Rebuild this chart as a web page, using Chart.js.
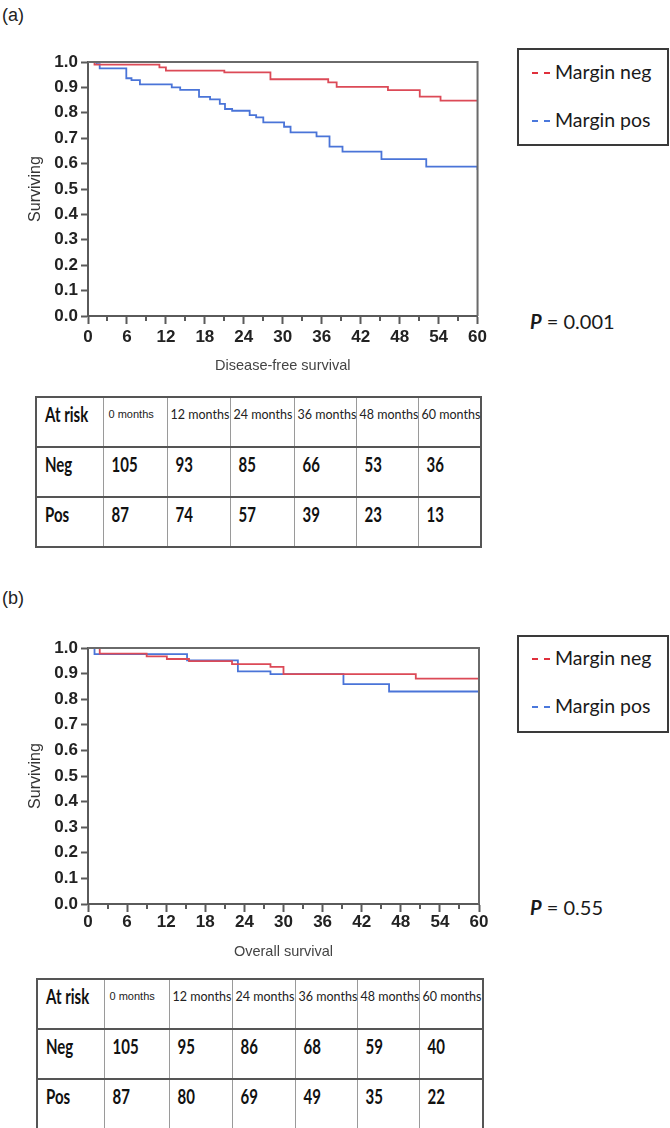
<!DOCTYPE html>
<html>
<head>
<meta charset="utf-8">
<script src="https://cdn.jsdelivr.net/npm/chart.js@4.4.1/dist/chart.umd.min.js"></script>
<style>
  html, body { margin: 0; padding: 0; background: #fff; }
  #page { position: relative; width: 670px; height: 1128px; overflow: hidden; background: #fff; font-family: "Liberation Sans", Arial, sans-serif; }
  .panel { position: absolute; left: 2px; font-size: 18px; color: #222; }
  .cw { position: absolute; left: 0; }
  .legend { position: absolute; left: 517px; width: 152px; height: 98px; border: 2px solid #3a3a3a; box-sizing: border-box; font-family: Lato, "Open Sans", sans-serif; font-size: 19.5px; color: #1a1a1a; }
  .legend .item { position: absolute; left: 13px; height: 22px; line-height: 22px; white-space: nowrap; }
  .legend .swatch { display: inline-block; width: 18px; height: 0; border-top: 2px dashed; vertical-align: middle; margin-right: 5px; position: relative; top: -1px; }
  .pval { position: absolute; left: 530px; font-family: Lato, sans-serif; font-size: 20px; color: #1a1a1a; white-space: nowrap; }
  .pval i { font-weight: bold; }
  table.risk { position: absolute; border-collapse: collapse; table-layout: fixed; }
  table.risk td { height: 50px; box-sizing: border-box; vertical-align: top; padding: 0; border-left: 1px solid #9a9a9a; border-right: 1px solid #9a9a9a; border-top: 2px solid #555; border-bottom: 2px solid #555; overflow: visible; white-space: nowrap; }
  table.risk td:first-child { border-left: 2px solid #555; }
  table.risk td:last-child { border-right: 2px solid #555; }
  table.risk td.h { font-family: Lato, sans-serif; font-size: 12.5px; color: #222; padding: 9px 0 0 3px; }
  table.risk td.h0 { font-family: "Liberation Sans", Arial, sans-serif; font-size: 11px; padding: 10px 0 0 5px; }
  table.risk td .b { display: inline-block; font-family: Lato, sans-serif; font-weight: bold; font-size: 15px; line-height: 16px; color: #111; transform: scaleY(1.4); transform-origin: 50% 50%; }
  table.risk td.n { padding: 8px 0 0 8px; }
</style>
</head>
<body>
<div id="page">
  <div class="panel" style="top:5px;">(a)</div>
  <div class="cw" style="top:40px;"><canvas id="chartA" width="490" height="340"></canvas></div>
  <div class="legend" style="top:48px;">
    <div class="item" style="top:11px;"><span class="swatch" style="border-color:#e0303c;"></span>Margin neg</div>
    <div class="item" style="top:59px;"><span class="swatch" style="border-color:#4a78dc;"></span>Margin pos</div>
  </div>
  <div class="pval" style="top:309px;"><i>P</i> = 0.001</div>
  <table class="risk" id="tableA" style="left:35px; top:396px;"></table>

  <div class="panel" style="top:588px;">(b)</div>
  <div class="cw" style="top:620px;"><canvas id="chartB" width="490" height="350"></canvas></div>
  <div class="legend" style="top:635px;">
    <div class="item" style="top:10px;"><span class="swatch" style="border-color:#e0303c;"></span>Margin neg</div>
    <div class="item" style="top:58px;"><span class="swatch" style="border-color:#4a78dc;"></span>Margin pos</div>
  </div>
  <div class="pval" style="top:895px;"><i>P</i> = 0.55</div>
  <table class="risk" id="tableB" style="left:36px; top:978px;"></table>
</div>

<script>
// ---------- DATA ----------
const X_TICKS_MINOR = [3, 9, 15, 21, 27, 33, 39, 45, 51, 57];

// (a) Disease-free survival
const dfsNegTimes = [0, 1, 11, 12, 21, 28.1, 37, 38.3, 46.2, 51.1, 54.3, 60];
const dfsNegSurv  = [1.0, 0.99, 0.979, 0.966, 0.959, 0.932, 0.92, 0.902, 0.889, 0.864, 0.848, 0.848];
const dfsPosTimes = [0, 1.3, 1.8, 5.9, 6.7, 8, 12.9, 14.2, 17.1, 18.8, 20.3, 21.1, 22.2, 24.9, 25.9, 27, 30.2, 31.2, 35.2, 37.2, 39.2, 45.2, 52.1, 60];
const dfsPosSurv  = [1.0, 0.992, 0.975, 0.936, 0.929, 0.912, 0.900, 0.890, 0.863, 0.853, 0.835, 0.815, 0.808, 0.791, 0.782, 0.762, 0.745, 0.723, 0.707, 0.667, 0.647, 0.618, 0.588, 0.575];

// (b) Overall survival
const osNegTimes = [0, 1.8, 9, 12.1, 15.5, 22.1, 28, 30, 50.3, 60];
const osNegSurv  = [1.0, 0.978, 0.967, 0.957, 0.949, 0.937, 0.926, 0.898, 0.880, 0.880];
const osPosTimes = [0, 1, 15.2, 23, 28, 39.2, 46.2, 60];
const osPosSurv  = [1.0, 0.976, 0.952, 0.909, 0.898, 0.859, 0.830, 0.830];

// Numbers at risk
const riskHeaders = ["At risk", "0 months", "12 months", "24 months", "36 months", "48 months", "60 months"];
const riskRows = ["Neg", "Pos"];
const dfsRiskNeg = [105, 93, 85, 66, 53, 36];
const dfsRiskPos = [87, 74, 57, 39, 23, 13];
const osRiskNeg  = [105, 95, 86, 68, 59, 40];
const osRiskPos  = [87, 80, 69, 49, 35, 22];

// ---------- STYLE ----------
const RED = '#dc4a57';
const BLUE = '#4a74d8';
const AXIS = '#5a5a5a';

function pts(t, s) { return t.map((v, i) => ({ x: v, y: s[i] })); }

const framePlugin = {
  id: 'frameAndMinor',
  afterDraw(chart) {
    const ctx = chart.ctx;
    const a = chart.chartArea;
    const xs = chart.scales.x;
    ctx.save();
    ctx.strokeStyle = '#6a6a6a';
    ctx.lineWidth = 2;
    ctx.beginPath();
    ctx.moveTo(a.left, a.top);
    ctx.lineTo(a.right, a.top);
    ctx.lineTo(a.right, a.bottom);
    ctx.stroke();
    ctx.strokeStyle = AXIS;
    ctx.lineWidth = 2;
    for (const v of X_TICKS_MINOR) {
      const px = Math.round(xs.getPixelForValue(v));
      ctx.beginPath();
      ctx.moveTo(px, a.bottom);
      ctx.lineTo(px, a.bottom + 5);
      ctx.stroke();
    }
    ctx.restore();
  }
};

function makeChart(id, neg, pos, xTitle, opt) {
  return new Chart(document.getElementById(id), {
    type: 'line',
    data: {
      datasets: [
        { label: 'Margin neg', data: neg, borderColor: RED, borderWidth: 1.8, stepped: 'before', pointRadius: 0, fill: false },
        { label: 'Margin pos', data: pos, borderColor: BLUE, borderWidth: 1.8, stepped: 'before', pointRadius: 0, fill: false }
      ]
    },
    plugins: [framePlugin],
    options: {
      responsive: false,
      animation: false,
      devicePixelRatio: 1,
      layout: { padding: { top: opt.padTop, right: 11, left: 0, bottom: 0 } },
      plugins: { legend: { display: false }, tooltip: { enabled: false } },
      scales: {
        x: {
          type: 'linear', min: 0, max: 60,
          afterFit: s => { s.height = opt.xHeight; },
          ticks: { stepSize: 6, autoSkip: false, maxRotation: 0, padding: opt.xTickPad, color: '#222', font: { family: '"Liberation Sans", Arial', size: 17, weight: 'bold' } },
          grid: { display: true, drawOnChartArea: false, drawTicks: true, tickLength: 8, tickColor: AXIS, tickWidth: 2 },
          border: { display: true, color: AXIS, width: 2 },
          title: { display: true, text: xTitle, color: '#444', font: { family: '"Liberation Sans", Arial', size: 14.5 }, padding: { top: 0, bottom: opt.xTitlePad } }
        },
        y: {
          type: 'linear', min: 0, max: 1,
          afterFit: s => { s.width = 88; },
          ticks: { stepSize: 0.1, padding: 3, color: '#222', font: { family: '"Liberation Sans", Arial', size: 17, weight: 'bold' }, callback: v => Number(v).toFixed(1) },
          grid: { display: true, drawOnChartArea: false, drawTicks: true, tickLength: 7, tickColor: AXIS, tickWidth: 2 },
          border: { display: true, color: AXIS, width: 2 },
          title: { display: true, text: 'Surviving', color: '#333', font: { family: '"Liberation Sans", Arial', size: 16 }, padding: { top: 26, bottom: 0 } }
        }
      }
    }
  });
}

makeChart('chartA', pts(dfsNegTimes, dfsNegSurv), pts(dfsPosTimes, dfsPosSurv), 'Disease-free survival',
  { padTop: 22, xHeight: 64, xTickPad: 3, xTitlePad: 5 });
makeChart('chartB', pts(osNegTimes, osNegSurv), pts(osPosTimes, osPosSurv), 'Overall survival',
  { padTop: 28, xHeight: 66, xTickPad: 0, xTitlePad: 9 });

function buildTable(id, colW, negVals, posVals) {
  const t = document.getElementById(id);
  const cg = document.createElement('colgroup');
  colW.forEach(w => { const c = document.createElement('col'); c.style.width = w + 'px'; cg.appendChild(c); });
  t.appendChild(cg);
  t.style.width = colW.reduce((a, b) => a + b, 0) + 'px';
  const hr = document.createElement('tr');
  riskHeaders.forEach((h, i) => {
    const td = document.createElement('td');
    if (i === 0) { td.className = 'n'; td.innerHTML = '<span class="b">' + h + '</span>'; }
    else { td.className = i === 1 ? 'h h0' : 'h'; td.textContent = h; }
    hr.appendChild(td);
  });
  t.appendChild(hr);
  [negVals, posVals].forEach((vals, r) => {
    const tr = document.createElement('tr');
    const td0 = document.createElement('td');
    td0.className = 'n';
    td0.innerHTML = '<span class="b">' + riskRows[r] + '</span>';
    tr.appendChild(td0);
    vals.forEach(v => {
      const td = document.createElement('td');
      td.className = 'n';
      td.innerHTML = '<span class="b">' + v + '</span>';
      tr.appendChild(td);
    });
    t.appendChild(tr);
  });
}

buildTable('tableA', [67, 64, 63, 64, 62, 62, 63], dfsRiskNeg, dfsRiskPos);
buildTable('tableB', [67, 65, 63, 63, 62, 62, 64], osRiskNeg, osRiskPos);
</script>
</body>
</html>
